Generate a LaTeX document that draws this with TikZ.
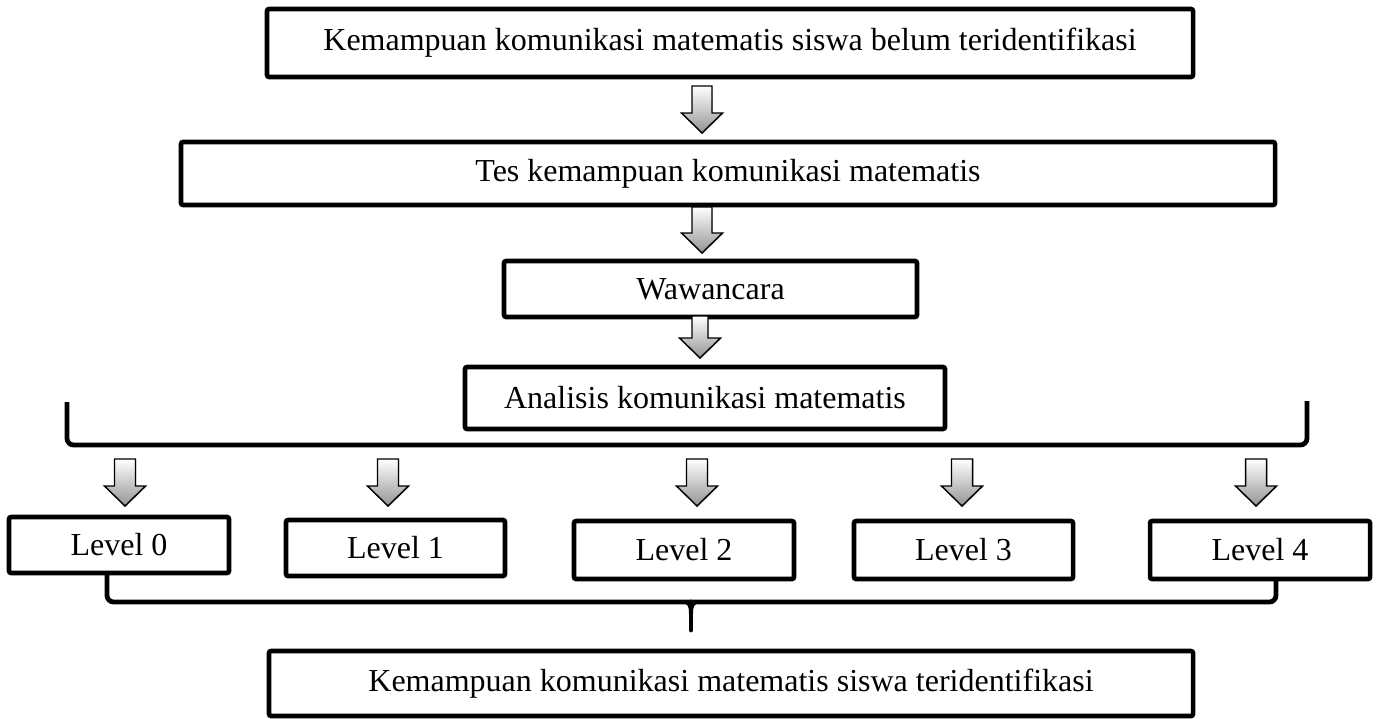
\documentclass[tikz,border=0pt]{standalone}
\usepackage{fontspec}
\setmainfont{Liberation Serif}
\usetikzlibrary{shadows}
\begin{document}
\begin{tikzpicture}[x=0.75pt,y=-0.75pt,
  box/.style={draw, line width=3.4pt, rounded corners=1.5pt, fill=white, inner sep=0pt,
    font=\fontsize{24}{29}\selectfont,
    drop shadow={opacity=0.22, shadow xshift=1.3pt, shadow yshift=-1.3pt}},
  brace/.style={line width=3.6pt, rounded corners=5pt},
  arrowline/.style={draw=black, line width=1.1pt, line join=miter, top color=white, bottom color=black!42},
  pics/darr/.style n args={2}{code={
    \path[arrowline, drop shadow={opacity=0.2, shadow xshift=0.8pt, shadow yshift=-0.8pt}]
      ({-#2},0) -- ({#2},0) -- ({#2},{#1-20}) -- (20.5,{#1-20}) -- (0,{#1})
      -- (-20.5,{#1-20}) -- ({-#2},{#1-20}) -- cycle;
  }}
]
\useasboundingbox (0,0) rectangle (1376,718);

% braces (drawn first, behind boxes)
\draw[brace] (67,402) -- (67,445) -- (1307,445) -- (1307,401);
\draw[brace] (107,560) -- (107,602) -- (1276,602) -- (1276,565);
\draw[line width=3.6pt, line cap=round] (691,602) -- (691,630);
\fill (681,603) .. controls (688.5,603) and (689,607) .. (689,614) -- (693,614)
  .. controls (693,607) and (693.5,603) .. (701,603) -- cycle;

% boxes
\node[box, minimum width=694.5pt, minimum height=51pt] (b1) at (730,43)
  {Kemampuan komunikasi matematis siswa belum teridentifikasi};
\node[box, minimum width=820.5pt, minimum height=47.25pt] (b2) at (728,173.5)
  {Tes kemampuan komunikasi matematis};
\node[box, minimum width=309.75pt, minimum height=42pt] (b3) at (710.5,289)
  {\raisebox{-2pt}{Wawancara}};
\node[box, minimum width=360pt, minimum height=46.5pt] (b4) at (705,398)
  {Analisis komunikasi matematis};
\node[box, minimum width=165pt, minimum height=42pt] (l0) at (119,545) {\raisebox{-2pt}{Level 0}};
\node[box, minimum width=164.25pt, minimum height=42pt] (l1) at (395.5,548) {\raisebox{-2pt}{Level 1}};
\node[box, minimum width=165pt, minimum height=43.5pt] (l2) at (684,550) {\raisebox{-2pt}{Level 2}};
\node[box, minimum width=164.25pt, minimum height=43.5pt] (l3) at (963.5,550) {\raisebox{-2pt}{Level 3}};
\node[box, minimum width=165pt, minimum height=43.5pt] (l4) at (1260,550) {\raisebox{-2pt}{Level 4}};
\node[box, minimum width=693pt, minimum height=48.75pt] (b5) at (731,683.5)
  {Kemampuan komunikasi matematis siswa teridentifikasi};

% block arrows
\pic (a1) at (702,86) {darr={47}{10}};
\pic (a2) at (702,207) {darr={46}{10}};
\pic (a3) at (700,316) {darr={42}{8}};
\pic (a4) at (125,459) {darr={47}{10.5}};
\pic (a5) at (388,459) {darr={47}{10.5}};
\pic (a6) at (697,459) {darr={47}{10.5}};
\pic (a7) at (962,459) {darr={47}{10.5}};
\pic (a8) at (1256,459) {darr={47}{10.5}};
\end{tikzpicture}
\end{document}
